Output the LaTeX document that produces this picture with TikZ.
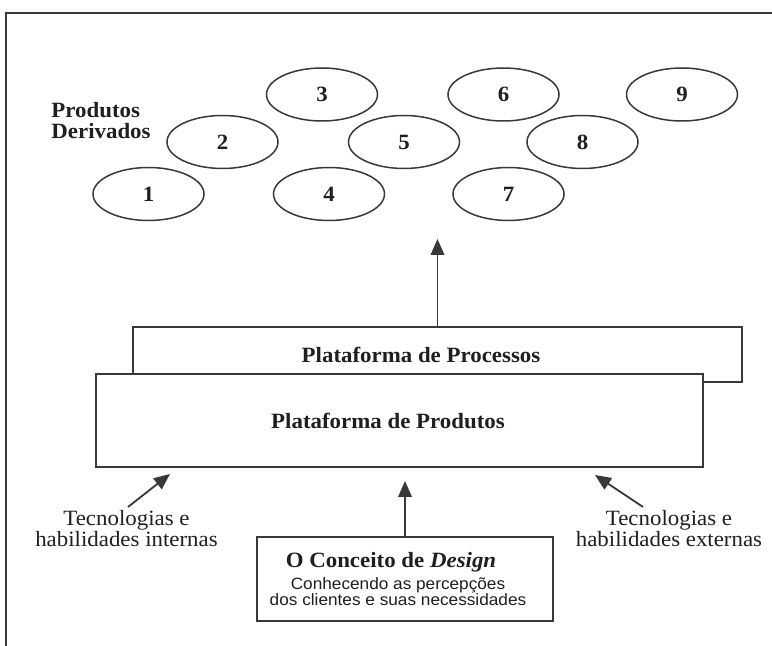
\documentclass[tikz,border=0pt]{standalone}
\usepackage{fontspec}
\setmainfont{Liberation Serif}[FakeStretch=1.05]
\setsansfont{Liberation Sans}[FakeStretch=1.05]
\usetikzlibrary{arrows.meta,shapes.geometric}
\begin{document}
\begin{tikzpicture}[x=0.5pt,y=-0.5pt,
  line/.style={draw=black!78, line width=0.9pt},
  oval/.style={ellipse, draw=black!78, line width=0.75pt, minimum width=55.5pt, minimum height=26.5pt, inner sep=0pt,
    font=\fontsize{10.9}{12}\selectfont\bfseries, text=black!88},
  plat/.style={rectangle, line, fill=white, inner sep=0pt},
  lbl/.style={inner sep=0pt, text=black!88, font=\fontsize{10.9}{10.5}\selectfont},
  blbl/.style={lbl, font=\fontsize{10.9}{10.5}\selectfont\bfseries},
  slbl/.style={inner sep=0pt, text=black!88, font=\sffamily\fontsize{8.2}{7.7}\selectfont},
  arr/.style={line, -{Triangle[length=8pt,width=6.8pt]}}
]
\useasboundingbox (0,0) rectangle (772,646);
% outer frame
\draw[line] (772,13) -- (6,13) -- (6,646);

% derived products
\node[blbl, anchor=west, align=left] (deriv) at (51,121) {Produtos\\Derivados};
\node[oval] (e1) at (148.5,194) {1};
\node[oval] (e2) at (222.5,142) {2};
\node[oval] (e3) at (322,94.5) {3};
\node[oval] (e4) at (329,194) {4};
\node[oval] (e5) at (404,142) {5};
\node[oval] (e6) at (503.5,94.5) {6};
\node[oval] (e7) at (508.5,194) {7};
\node[oval] (e8) at (582.5,142) {8};
\node[oval] (e9) at (682,94.5) {9};

% platforms
\node[plat, minimum width=304.5pt, minimum height=27.5pt] (proc) at (437.5,354.5) {};
\node[blbl] (proct) at (421,355) {Plataforma de Processos};
\node[plat, minimum width=303.5pt, minimum height=46.5pt] (prod) at (399.5,420.5) {};
\node[blbl] (prodt) at (388,421) {Plataforma de Produtos};

% design concept
\node[plat, minimum width=148pt, minimum height=42pt] (design) at (405,579) {};
\node[blbl] (designt) at (391,562) {O Conceito de \textit{Design}};
\node[slbl, align=center] (designs) at (398,591.5) {Conhecendo as percepções\\dos clientes e suas necessidades};

% side labels
\node[lbl, align=center] (intern) at (126.5,529) {Tecnologias e\\habilidades internas};
\node[lbl, align=center] (extern) at (669,529) {Tecnologias e\\habilidades externas};

% arrows
\coordinate (tipUp) at (437.5,239);
\coordinate (tipD) at (405,481);
\coordinate (tailI) at (128,507);
\coordinate (tipI) at (170,474);
\coordinate (tailE) at (643,507);
\coordinate (tipE) at (595,475);
\draw[arr] (proc.north) -- (tipUp);
\draw[arr] (design.north) -- (tipD);
\draw[arr] (tailI) -- (tipI);
\draw[arr] (tailE) -- (tipE);
\end{tikzpicture}
\end{document}
